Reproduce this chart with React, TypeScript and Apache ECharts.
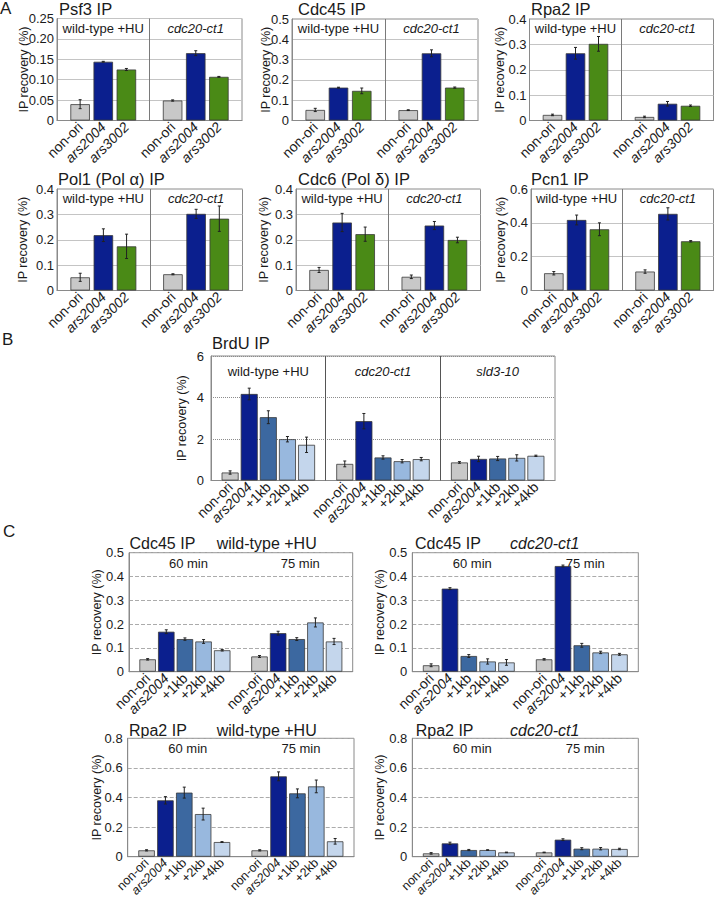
import React, { useEffect, useRef } from 'react';
import * as echarts from 'echarts';

const FONT = '"Liberation Sans", Arial, Helvetica, sans-serif';

// ---- categories ----
const oriSitesA = ['non-ori', 'ars2004', 'ars3002'];
const oriSitesBC = ['non-ori', 'ars2004', '+1kb', '+2kb', '+4kb'];
const strainsA = ['wild-type +HU', 'cdc20-ct1'];
const strainsB = ['wild-type +HU', 'cdc20-ct1', 'sld3-10'];
const timesC = ['60 min', '75 min'];
const yAxisTitle = 'IP recovery (%)';

// ---- panel A (wild-type +HU, then cdc20-ct1) ----
const psf3Values = [0.040, 0.144, 0.125, 0.049, 0.165, 0.107];
const psf3Errors = [0.011, 0.001, 0.0025, 0.0015, 0.006, 0.001];
const cdc45AValues = [0.052, 0.162, 0.146, 0.051, 0.331, 0.162];
const cdc45AErrors = [0.008, 0.002, 0.014, 0.002, 0.017, 0.003];
const rpa2AValues = [0.022, 0.265, 0.302, 0.014, 0.066, 0.058];
const rpa2AErrors = [0.003, 0.023, 0.029, 0.003, 0.009, 0.003];
const pol1Values = [0.052, 0.218, 0.174, 0.064, 0.302, 0.283];
const pol1Errors = [0.016, 0.025, 0.048, 0.002, 0.018, 0.05];
const cdc6Values = [0.081, 0.268, 0.222, 0.054, 0.256, 0.199];
const cdc6Errors = [0.01, 0.036, 0.028, 0.007, 0.016, 0.011];
const pcn1Values = [0.102, 0.417, 0.362, 0.112, 0.453, 0.291];
const pcn1Errors = [0.01, 0.029, 0.038, 0.01, 0.036, 0.004];

// ---- panel B (wild-type +HU, cdc20-ct1, sld3-10) ----
const brduValues = [0.385, 4.17, 3.05, 1.99, 1.72, 0.80, 2.86, 1.11, 0.93, 1.03, 0.87, 1.04, 1.06, 1.09, 1.19];
const brduErrors = [0.08, 0.28, 0.31, 0.13, 0.37, 0.14, 0.37, 0.08, 0.08, 0.08, 0.04, 0.13, 0.10, 0.15, 0.03];

// ---- panel C (60 min, then 75 min) ----
const cdc45WtValues = [0.052, 0.168, 0.137, 0.127, 0.090, 0.064, 0.162, 0.137, 0.207, 0.127];
const cdc45WtErrors = [0.003, 0.008, 0.005, 0.008, 0.003, 0.004, 0.008, 0.006, 0.019, 0.013];
const cdc45CdcValues = [0.027, 0.349, 0.066, 0.043, 0.039, 0.052, 0.444, 0.111, 0.081, 0.073];
const cdc45CdcErrors = [0.006, 0.004, 0.006, 0.011, 0.012, 0.003, 0.004, 0.008, 0.005, 0.004];
const rpa2WtValues = [0.043, 0.381, 0.433, 0.288, 0.099, 0.043, 0.543, 0.428, 0.475, 0.104];
const rpa2WtErrors = [0.004, 0.025, 0.037, 0.04, 0.003, 0.004, 0.03, 0.03, 0.043, 0.019];
const rpa2CdcValues = [0.0225, 0.09, 0.045, 0.045, 0.029, 0.029, 0.115, 0.054, 0.054, 0.052];
const rpa2CdcErrors = [0.005, 0.008, 0.004, 0.002, 0.002, 0.002, 0.006, 0.007, 0.008, 0.005];

const siteColors: Record<string, string> = {
  'non-ori': '#c8c8c8',
  ars2004: '#0b1f8e',
  ars3002: '#4a8a16',
  '+1kb': '#3c68a0',
  '+2kb': '#98b8de',
  '+4kb': '#c4d6ec',
};

const italicNames = new Set(['cdc20-ct1', 'sld3-10']);

type PanelDef = {
  title: string;
  titleX: number;
  titleY: number;
  titleSize: number;
  subtitle?: string;
  subtitleX?: number;
  left: number;
  top: number;
  width: number;
  height: number;
  sites: string[];
  groups: string[];
  values: number[];
  errors: number[];
  yMax: number;
  yStep: number;
  decimals: number;
  gridType: 'solid' | 'dashed' | 'dotted';
  gridColor: string;
  dividers: boolean;
  dividerColor: string;
  headerDy: number;
  headerDx: number;
  barWidth: number;
  nameX: number;
  labelMargin: number;
  xLabelSize: number;
};

const baseA = {
  sites: oriSitesA,
  groups: strainsA,
  titleSize: 16.5,
  gridType: 'solid' as const,
  gridColor: '#c4c4c4',
  dividers: true,
  dividerColor: '#7a7a7a',
  headerDy: 9.5,
  headerDx: 0,
  barWidth: 19.5,
  labelMargin: 3,
  xLabelSize: 14,
};
const baseC = {
  sites: oriSitesBC,
  groups: timesC,
  titleSize: 16,
  gridType: 'dashed' as const,
  gridColor: '#ababab',
  dividers: false,
  dividerColor: '#777',
  headerDy: 10.5,
  headerDx: 3.5,
  barWidth: 16.5,
  labelMargin: 5,
  xLabelSize: 14,
};

const panels: PanelDef[] = [
  { ...baseA, title: 'Psf3 IP', titleX: 59, titleY: 9, left: 57, top: 18.5, width: 185, height: 102, values: psf3Values, errors: psf3Errors, yMax: 0.25, yStep: 0.05, decimals: 2, nameX: 24 },
  { ...baseA, title: 'Cdc45 IP', titleX: 298, titleY: 9, left: 292, top: 19, width: 186, height: 101.5, values: cdc45AValues, errors: cdc45AErrors, yMax: 0.5, yStep: 0.1, decimals: 1, nameX: 266 },
  { ...baseA, title: 'Rpa2 IP', titleX: 531, titleY: 9, left: 529.5, top: 19, width: 184, height: 101.5, values: rpa2AValues, errors: rpa2AErrors, yMax: 0.4, yStep: 0.1, decimals: 1, nameX: 500 },
  { ...baseA, title: 'Pol1 (Pol α) IP', titleX: 58, titleY: 179, left: 57, top: 189, width: 185.5, height: 101.5, values: pol1Values, errors: pol1Errors, yMax: 0.4, yStep: 0.1, decimals: 1, nameX: 23 },
  { ...baseA, title: 'Cdc6 (Pol δ) IP', titleX: 298, titleY: 179, left: 296, top: 189, width: 184.5, height: 101.5, values: cdc6Values, errors: cdc6Errors, yMax: 0.4, yStep: 0.1, decimals: 1, nameX: 264 },
  { ...baseA, title: 'Pcn1 IP', titleX: 531, titleY: 179, left: 531, top: 189, width: 182.5, height: 101.5, values: pcn1Values, errors: pcn1Errors, yMax: 0.6, yStep: 0.2, decimals: 1, nameX: 501 },
  {
    title: 'BrdU IP', titleX: 212, titleY: 343, titleSize: 16.5, left: 211, top: 356, width: 344, height: 124.5,
    sites: oriSitesBC, groups: strainsB, values: brduValues, errors: brduErrors,
    yMax: 6, yStep: 2, decimals: 0, gridType: 'dotted', gridColor: '#8c8c8c',
    dividers: true, dividerColor: '#555', headerDy: 15.7, headerDx: 0, barWidth: 17, nameX: 182, labelMargin: 7, xLabelSize: 14,
  },
  { ...baseC, title: 'Cdc45 IP', titleX: 129.5, titleY: 543, subtitle: 'wild-type +HU', subtitleX: 216.7, left: 129, top: 552.7, width: 223.7, height: 119, values: cdc45WtValues, errors: cdc45WtErrors, yMax: 0.5, yStep: 0.1, decimals: 1, nameX: 97 },
  { ...baseC, title: 'Cdc45 IP', titleX: 415, titleY: 543, subtitle: 'cdc20-ct1', subtitleX: 510, left: 412.3, top: 552.7, width: 226, height: 119, values: cdc45CdcValues, errors: cdc45CdcErrors, yMax: 0.5, yStep: 0.1, decimals: 1, nameX: 380 },
  { ...baseC, title: 'Rpa2 IP', titleX: 129, titleY: 730, subtitle: 'wild-type +HU', subtitleX: 216.7, left: 127.7, top: 738.3, width: 226.3, height: 118.4, values: rpa2WtValues, errors: rpa2WtErrors, yMax: 0.8, yStep: 0.2, decimals: 1, nameX: 97, xLabelSize: 12.5, labelMargin: 5 },
  { ...baseC, title: 'Rpa2 IP', titleX: 415.7, titleY: 730, subtitle: 'cdc20-ct1', subtitleX: 510, left: 412.3, top: 738.3, width: 226, height: 118.4, values: rpa2CdcValues, errors: rpa2CdcErrors, yMax: 0.8, yStep: 0.2, decimals: 1, nameX: 380, xLabelSize: 12.5, labelMargin: 5 },
];

function buildOption() {
  const grids: any[] = [];
  const xAxes: any[] = [];
  const yAxes: any[] = [];
  const series: any[] = [];
  const graphics: any[] = [];

  const textEl = (text: string, x: number, y: number, size: number, italic: boolean, align = 'left', rotation = 0) => ({
    type: 'text',
    silent: true,
    x,
    y,
    rotation,
    style: {
      text,
      x: 0,
      y: 0,
      font: `${italic ? 'italic ' : ''}${size}px ${FONT}`,
      fill: '#1a1a1a',
      textAlign: align,
      textVerticalAlign: 'middle',
    },
  });

  graphics.push(textEl('A', 0, 8, 17, false));
  graphics.push(textEl('B', 2, 339, 17, false));
  graphics.push(textEl('C', 3, 531.5, 17, false));

  panels.forEach((p, gi) => {
    const n = p.sites.length;
    const cats: string[] = [''];
    const barData: any[] = ['-'];
    const errData: number[][] = [];
    p.groups.forEach((_, k) => {
      p.sites.forEach((s, j) => {
        const idx = cats.length;
        const v = p.values[k * n + j];
        const e = p.errors[k * n + j];
        cats.push(s);
        barData.push({
          value: v,
          itemStyle: { color: siteColors[s], borderColor: '#3a3a3a', borderWidth: 0.8 },
        });
        errData.push([idx, Math.max(0, v - e), v + e]);
      });
      cats.push('');
      barData.push('-');
    });
    const slot = p.width / (cats.length - 1);

    grids.push({
      left: p.left,
      top: p.top,
      width: p.width,
      height: p.height,
      show: true,
      borderColor: '#8a8a8a',
      borderWidth: 1,
      containLabel: false,
      outerBoundsMode: 'none',
    });

    xAxes.push({
      gridIndex: gi,
      type: 'category',
      data: cats,
      boundaryGap: false,
      axisLine: { show: true, lineStyle: { color: '#8a8a8a', width: 1 } },
      axisTick: { show: false },
      splitLine: { show: false },
      axisLabel: {
        interval: 0,
        rotate: 45,
        margin: 4,
        fontSize: p.xLabelSize,
        fontFamily: FONT,
        color: '#1a1a1a',
        formatter: (v: string) => (v === '' ? '' : v.startsWith('ars') ? `{i|${v}}` : v),
        rich: { i: { fontStyle: 'italic', fontSize: p.xLabelSize, fontFamily: FONT, color: '#1a1a1a' } },
      },
    });

    yAxes.push({
      gridIndex: gi,
      type: 'value',
      min: 0,
      max: p.yMax,
      interval: p.yStep,
      axisLine: { show: true, lineStyle: { color: '#8a8a8a', width: 1 } },
      axisTick: { show: false },
      splitLine: { show: true, lineStyle: { color: p.gridColor, type: p.gridType, width: 1 } },
      axisLabel: {
        fontSize: 13,
        fontFamily: FONT,
        color: '#1a1a1a',
        margin: p.labelMargin,
        formatter: (v: number) => (v === 0 ? '0' : v.toFixed(p.decimals)),
      },
    });

    const dividerIdx: number[] = [];
    if (p.dividers) {
      for (let k = 1; k < p.groups.length; k++) dividerIdx.push(k * (n + 1));
    }

    series.push({
      type: 'bar',
      xAxisIndex: gi,
      yAxisIndex: gi,
      barWidth: p.barWidth,
      data: barData,
      silent: true,
      markLine: dividerIdx.length
        ? {
            silent: true,
            symbol: ['none', 'none'],
            label: { show: false },
            lineStyle: { color: p.dividerColor, type: 'solid', width: 1 },
            data: dividerIdx.map((d) => ({ xAxis: d })),
          }
        : undefined,
    });

    series.push({
      type: 'custom',
      xAxisIndex: gi,
      yAxisIndex: gi,
      silent: true,
      z: 10,
      encode: { x: 0, y: [1, 2] },
      data: errData,
      renderItem: (_params: any, api: any) => {
        const x = api.value(0);
        const lo = api.coord([x, api.value(1)]);
        const hi = api.coord([x, api.value(2)]);
        const cap = 1.5;
        const st = { stroke: '#222', lineWidth: 1 };
        return {
          type: 'group',
          children: [
            { type: 'line', shape: { x1: lo[0], y1: lo[1], x2: hi[0], y2: hi[1] }, style: st },
            { type: 'line', shape: { x1: lo[0] - cap, y1: lo[1], x2: lo[0] + cap, y2: lo[1] }, style: st },
            { type: 'line', shape: { x1: hi[0] - cap, y1: hi[1], x2: hi[0] + cap, y2: hi[1] }, style: st },
          ],
        };
      },
    });

    // y-axis title
    graphics.push(textEl(yAxisTitle, p.nameX, p.top + p.height / 2, 12.5, false, 'center', Math.PI / 2));
    // titles
    graphics.push(textEl(p.title, p.titleX, p.titleY, p.titleSize, false));
    if (p.subtitle) {
      graphics.push(textEl(p.subtitle, p.subtitleX as number, p.titleY, p.titleSize, italicNames.has(p.subtitle)));
    }
    // group headers inside the plot
    p.groups.forEach((g, k) => {
      const centerIdx = 1 + k * (n + 1) + (n - 1) / 2;
      graphics.push(
        textEl(g, p.left + centerIdx * slot + p.headerDx, p.top + p.headerDy, 13, italicNames.has(g), 'center'),
      );
    });
  });

  return {
    animation: false,
    backgroundColor: '#ffffff',
    grid: grids,
    xAxis: xAxes,
    yAxis: yAxes,
    series,
    graphic: { elements: graphics },
  };
}

export default function App() {
  const ref = useRef<HTMLDivElement>(null);
  useEffect(() => {
    if (!ref.current) return;
    const chart = echarts.init(ref.current, undefined, { renderer: 'svg' });
    chart.setOption(buildOption() as any);
    return () => chart.dispose();
  }, []);
  return (
    <div
      ref={ref}
      style={{ position: 'absolute', left: 0, top: 0, width: 715, height: 899, background: '#fff' }}
    />
  );
}
